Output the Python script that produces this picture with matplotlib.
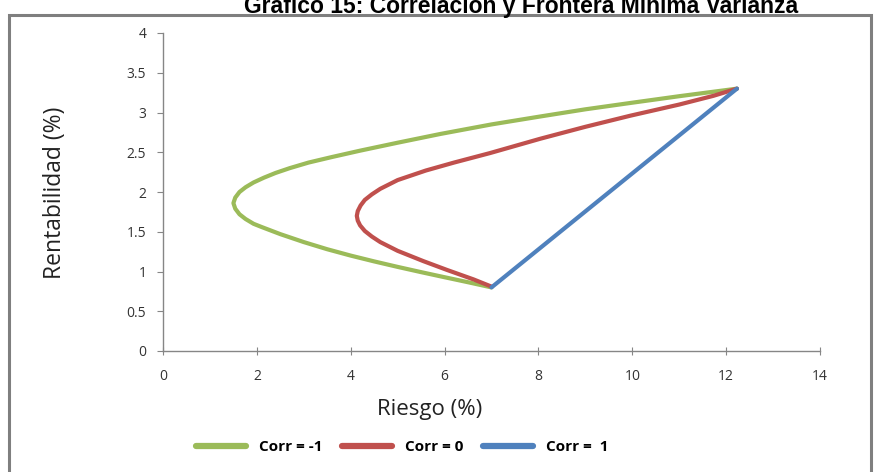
import matplotlib
matplotlib.use("Agg")
from matplotlib import pyplot as plt
from matplotlib.patches import Rectangle

# riesgo (x) / rentabilidad (y) de cada cartera, de A (7, 0.8) hasta B (12.23, 3.3)
riesgo_m1 = [7.0, 6.5, 6.0, 5.5, 5.0, 4.5, 4.0, 3.5, 3.0, 2.5, 2.1, 1.93,
             1.76, 1.63, 1.54, 1.50, 1.54, 1.63, 1.76, 1.93, 2.15, 2.40, 2.70,
             3.10, 3.60, 4.20, 5.00, 5.91, 7.00, 8.04, 9.00, 9.96, 11.00, 12.23]
rent_m1 = [0.80, 0.865, 0.928, 0.992, 1.058, 1.127, 1.20, 1.28, 1.37, 1.47, 1.56, 1.60,
           1.66, 1.72, 1.79, 1.86, 1.93, 2.00, 2.06, 2.12, 2.18, 2.24, 2.30,
           2.37, 2.44, 2.52, 2.62, 2.73, 2.85, 2.95, 3.04, 3.12, 3.205, 3.30]

riesgo_0 = [7.0, 6.62, 6.05, 5.55, 5.00, 4.63, 4.45, 4.30, 4.20, 4.15, 4.13, 4.15,
            4.21, 4.30, 4.45, 4.63, 5.00, 5.60, 6.20, 6.97, 8.04, 9.00, 9.96, 11.00,
            11.73, 12.23]
rent_0 = [0.81, 0.90, 1.02, 1.13, 1.26, 1.37, 1.44, 1.51, 1.58, 1.64, 1.70, 1.76,
          1.83, 1.90, 1.97, 2.04, 2.15, 2.27, 2.37, 2.49, 2.67, 2.82, 2.96, 3.10,
          3.21, 3.30]

riesgo_1 = [7.0, 12.23]
rent_1 = [0.80, 3.30]

series = [
    (riesgo_m1, rent_m1, "#9BBB59", "Corr = -1"),
    (riesgo_0, rent_0, "#C0504D", "Corr = 0"),
    (riesgo_1, rent_1, "#4F81BD", "Corr =  1"),
]

fig = plt.figure(figsize=(8.75, 4.72), dpi=100)
fig.patch.set_facecolor("white")

# marco gris del grafico
fig.patches.append(Rectangle((9 / 875, -0.05), 862 / 875, 1.05 - 15 / 472,
                             transform=fig.transFigure, fill=False,
                             edgecolor="#7f7f7f", linewidth=2.2, zorder=0))

fig.text(521 / 875, 1 - 13 / 472, u"Gráfico 15: Correlación y Frontera Mínima Varianza",
         ha="center", va="baseline", fontsize=16.5, fontweight="bold",
         family="Liberation Sans", color="black")

ax = fig.add_axes([163 / 875, 1 - 351 / 472, 657 / 875, 318 / 472])
for xs, ys, color, label in series:
    ax.plot(xs, ys, color=color, linewidth=3.0, label=label,
            solid_capstyle="round", solid_joinstyle="round")

ax.set_xlim(0, 14)
ax.set_ylim(0, 4)
ax.set_xticks(range(0, 15, 2))
ax.set_yticks([0, 0.5, 1, 1.5, 2, 2.5, 3, 3.5, 4])
ax.set_yticklabels(["0", "0.5", "1", "1.5", "2", "2.5", "3", "3.5", "4"])
for side in ["top", "right"]:
    ax.spines[side].set_visible(False)
for side in ["left", "bottom"]:
    ax.spines[side].set_color("#868686")
    ax.spines[side].set_linewidth(1.0)
ax.tick_params(axis="y", direction="out", length=4, color="#868686",
               labelsize=10, labelcolor="#333333", pad=8)
ax.tick_params(axis="x", direction="inout", length=6, color="#868686",
               labelsize=10, labelcolor="#333333", pad=10)
for lbl in ax.get_xticklabels() + ax.get_yticklabels():
    lbl.set_family("Open Sans")

ax.set_xlabel("Riesgo (%)", fontsize=16, family="Open Sans", color="#222222")
ax.xaxis.set_label_coords((430 - 163) / 657, -(410 - 351) / 318)
ax.xaxis.label.set_va("center")
ax.set_ylabel("Rentabilidad (%)", fontsize=16.5, family="Open Sans", color="#222222")
ax.yaxis.set_label_coords(-(163 - 55) / 657, (351 - 193) / 318)
ax.yaxis.label.set_va("center")

leg = fig.legend(loc="center", bbox_to_anchor=(402 / 875, 1 - 447 / 472), ncol=3,
                 frameon=False, handlelength=3.3, handletextpad=0.8,
                 columnspacing=1.3, prop={"family": "Open Sans", "weight": "bold",
                                          "size": 11})
for line in leg.get_lines():
    line.set_linewidth(4.5)

plt.savefig("out.png", dpi=100, facecolor="white")
